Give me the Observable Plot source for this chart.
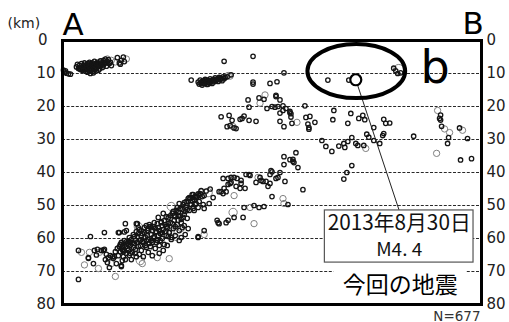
<!DOCTYPE html>
<html><head><meta charset="utf-8">
<script src="https://cdn.jsdelivr.net/npm/d3@7"></script>
<script src="https://cdn.jsdelivr.net/npm/@observablehq/plot@0.6"></script>
<style>body{margin:0;background:#fff;} #chart{width:509px;height:322px;}</style>
</head><body><div id="chart"></div>
<script>
// [distance along A-B, depth km, magnitude class (default 1)]
const edgeCluster = [[1,9.0],[2,9.6],[3,9.2],[4,9.9],[6,10.1],[8,10.2]];
const northwestCluster = [[14,8.0],[15,7.2],[16,8.5],[17,7.5],[18,8.8],[19,7.0],[19,8.2],[20,9.0],[21,7.6],[22,8.4],[22,6.8],[23,9.3],[24,7.8],[24,8.8],[25,7.1],[25,9.6],[26,8.2],[27,6.6],[27,9.0],[28,7.6],[28,10.0],[29,8.4],[30,6.8],[30,9.4],[31,7.8],[32,8.8],[32,6.3],[33,7.2],[34,9.2],[34,8.1],[35,6.6],[36,7.6],[37,8.6],[38,6.2],[39,7.3],[40,8.2],[41,6.0],[42,7.0],[43,5.6],[44,7.8],[45,6.4],[46,5.8],[47,7.0],[48,6.6],[49,7.6],[26,7.0],[29,7.3],[31,9.8],[23,8.0],[36,9.0],[17,8.3],[21,8.9],[25,8.4],[27,7.8],[29,9.0],[33,8.4],[35,7.4],[38,7.8],[41,7.6],[43,6.6],[20,7.9],[24,7.3],[28,8.7],[30,7.6],[32,7.5],[34,6.9],[37,7.2],[39,6.8],[40,7.0],[44,6.8],[45,5.6,2],[49,6.0,2],[53,6.5,2],[55,5.2],[57,6.8],[59,6.0],[61,5.0],[62,6.4],[64,5.6,2],[58,7.2]];
const northCluster = [[129,12.0],[136,12.6],[137,13.2],[138,12.0],[139,12.8],[140,13.5],[141,12.3],[142,13.0],[143,11.8],[144,12.6],[145,13.3],[146,12.1],[147,12.8],[148,11.6],[149,12.4],[150,13.0],[151,11.9],[152,12.5],[153,11.3],[154,12.1],[155,11.7],[156,12.4],[157,11.2],[158,11.9],[159,11.5],[160,12.2],[161,11.0],[162,11.6],[163,11.2],[165,11.0],[166,10.6,2],[168,10.8,2],[169,10.4],[142,12.2],[146,13.2],[150,12.0],[139,13.0],[144,12.0],[148,12.9],[152,11.8],[156,11.6],[140,12.4]];
const shallowScatter = [[162,6.3],[191,4.8],[191,12.6],[191,13.2],[222,9.8],[208,13.0],[215,12.5],[266,12.0],[287,12.0],[186,18.0],[187,20.2],[197,17.4],[203,16.5,2],[202,17.8],[214,16.6],[214,17.0],[218,18.0],[198,19.0,2],[205,20.6],[210,20.0],[213,20.2],[216,20.0],[221,19.8],[224,20.6],[221,21.2],[228,21.5],[228,21.9],[218,22.0],[243,19.8],[272,21.2],[229,22.2],[337,8.8,4],[332,8.4],[334,9.2],[336,10.0],[339,9.8]];
const midScatter = [[159,23.1],[167,22.7],[170,24.2],[168,25.8],[172,26.5],[165,26.1],[180,23.6],[182,22.9],[187,24.2],[194,24.5],[178,23.9],[174,26.7],[171,26.1,2],[218,24.5],[229,23.2],[230,25.1],[235,24.8,2],[244,23.3],[248,23.0],[253,24.8],[247,26.4],[247,26.9],[271,24.0],[222,26.1],[246,25.3],[289,22.1],[286,25.1],[297,23.6],[301,22.7],[303,24.0],[312,26.4],[322,23.9],[324,25.1],[328,25.0],[260,30.3],[264,32.1],[270,33.6],[277,32.0],[282,31.2],[283,32.4],[286,30.6],[290,29.4],[294,31.2],[296,31.8],[302,31.8],[304,32.7,2],[305,28.4],[307,29.3],[312,30.3],[318,31.2],[321,28.8],[322,28.2],[352,29.0]];
const eastGroup = [[376,21.2,2],[378,23.6],[379,24.1],[379,22.6],[380,26.0],[383,26.8,2],[388,27.9,2],[387,29.4],[386,31.2],[398,26.5],[401,27.2,2],[406,29.7],[375,34.2,2],[399,36.2],[410,35.8]];
const slabUpper = [[222,35.2],[228,36.1],[231,36.0],[231,36.6],[234,34.0],[232,37.0],[222,37.6],[236,38.5],[209,39.4],[210,39.8],[208,40.6],[218,40.0],[214,41.8],[223,42.7],[208,43.3],[206,44.2],[241,45.2],[290,37.9],[285,40.0],[282,42.0],[196,41.5,2],[194,43.0],[201,42.7],[204,42.7],[216,41.5],[184,40.6],[188,40.9],[199,42.4],[169,41.5],[172,41.5],[175,41.8],[179,42.4],[168,43.3],[174,44.2],[179,43.3],[178,44.8],[183,44.8],[166,43.6],[162,44.8],[157,45.8],[161,46.4],[164,45.8],[172,47.0,2],[146,46.1,3],[142,47.0],[137,47.0],[134,47.6],[130,47.6],[147,49.4],[136,50.6],[132,51.5],[210,47.3],[221,47.9,2],[222,49.4,2],[226,49.7],[171,52.1,3],[182,50.6],[188,50.6,2],[192,50.0],[197,50.6],[202,50.3],[181,53.6],[155,54.5],[157,55.5],[166,54.5],[164,55.2],[172,53.6],[192,55.5,2],[159,45.8],[156,55.2],[169,43.0],[187,40.6],[161,41.8],[166,41.8],[198,41.5]];
const slabDense = [[57,62.5],[58,64.0],[59,61.2],[60,63.3],[61,65.5],[62,60.6],[63,62.4],[64,64.5],[63,66.4],[65,61.5],[66,63.6],[67,59.7],[68,62.1],[69,60.3],[70,64.2],[71,58.8],[72,61.5],[73,63.3],[74,57.9],[74,65.5],[69,66.4],[67,65.1],[75,59.4],[76,62.4],[77,57.3],[78,60.6],[79,63.6],[80,58.5],[81,61.2],[82,56.7],[83,59.7],[84,62.7],[77,64.8],[81,65.5],[78,66.7,3],[80,67.6,2],[85,57.6],[86,60.3],[87,55.8],[88,62.4],[89,58.8],[90,61.2],[91,56.4],[92,59.4],[93,63.0],[94,57.9],[86,64.2],[90,65.2],[88,58.8,2],[92,61.5,2],[95,60.6],[96,56.7],[97,62.1],[98,58.5],[99,54.9],[100,60.0],[101,57.3],[102,61.8],[103,55.8],[104,59.1],[97,64.5],[101,63.6],[95,57.9,2],[105,56.7],[106,53.7],[107,58.2],[108,55.2],[109,60.3],[110,52.4],[111,57.0],[112,54.5],[113,59.1],[114,51.5],[105,62.1],[109,57.9,2],[115,55.8],[116,53.0],[117,57.6],[118,50.9],[119,54.2],[120,56.7],[121,49.7],[122,52.7],[123,58.8],[124,50.6],[119,59.7],[125,53.9],[126,48.8],[127,51.5],[128,47.9],[129,49.7],[130,46.7],[131,50.9],[132,48.2],[133,47.2],[134,49.4],[135,47.3],[136,46.5],[137,48.8],[138,46.4],[139,46.0,2],[139,45.5],[140,47.3],[141,49.7],[142,50.9],[144,45.6],[148,45.0],[151,47.6],[101,52.4],[109,50.3,3],[117,49.4],[122,49.1],[126,47.9],[127,47.6],[131,46.7],[112,53.0],[116,54.5],[119,55.2],[122,56.1],[126,57.0],[107,58.2],[109,59.7],[114,59.7,2],[117,60.6],[104,56.4],[99,55.2],[96,53.6],[92,55.2],[89,56.7],[84,56.1],[79,57.6],[76,56.7],[136,59.7],[142,57.6],[142,58.8,2],[136,59.4],[107,66.1,2],[95,65.8,2],[59,68.2],[76,56.4,3],[99,57.0,3],[119,57.0,2],[87,62.4,3]];
const slabDenseExtra = [[58,61.8],[60,62.4],[62,63.6],[64,61.0],[66,61.8],[68,64.5],[70,61.2],[71,62.7],[72,59.4],[73,60.6],[75,61.2],[76,58.5],[78,62.1],[79,59.1],[80,60.9],[82,58.2],[83,62.1],[84,60.6],[85,59.1],[86,57.0],[87,61.5],[88,56.4],[89,60.6],[90,57.6],[91,59.7],[93,57.0],[94,61.2],[95,55.5],[96,59.1],[97,57.6],[98,60.6],[100,56.1],[100,58.2],[102,54.6],[103,57.9],[104,53.4],[106,55.5],[106,59.4],[108,53.1],[110,55.5],[111,51.8],[113,53.4],[113,56.4],[115,50.6],[116,52.1],[118,53.1],[120,51.2],[121,53.6],[123,51.8],[124,48.8],[125,51.2],[128,49.7],[130,48.5],[133,49.7],[73,64.5],[65,63.0],[61,64.0],[67,61.0]];
const slabDeep = [[16,63.6],[19,64.2,2],[27,64.2,2],[32,63.6],[35,63.3],[39,63.6],[42,63.3],[44,64.8],[48,65.2],[50,65.5],[26,66.0],[31,67.6],[22,68.0,2],[36,69.1,2],[43,66.4],[47,68.8],[53,71.5,2],[16,72.4],[26,65.8],[37,64.2,2],[41,63.6],[42,58.2],[28,59.4],[46,65.8],[49,67.6,2],[54,67.6],[52,65.5],[56,65.2],[57,58.2],[59,68.5],[60,66.7],[63,55.5],[64,57.6],[74,55.5],[75,55.5],[62,58.0],[56,58.2],[51,66.0],[45,67.3],[34,65.0],[53,64.0],[55,63.0],[58,62.0]];
const mainEvent = [[294,11.9,4.4]];

// depth axis ticks
const depthTicks = [10,20,30,40,50,60,70,80];
const gridDepths = [10,20,30,40,50,60,70];

// annotations (distance, depth)
const ellipseB = [295, 9.4, 49, 8.2]; // centre dist, centre depth, radius dist, radius depth
const calloutBox = [263, 51.5, 412, 67.3];
const calloutLines = ["2013年8月30日", "M4. 4"];
const calloutDepths = [55.3, 63.7];
const labelBox = [272, 68.2, 405, 78.8];
const labelText = ["今回の地震"];
const labelDepth = 74.2;

const quakes = [...edgeCluster, ...northwestCluster, ...northCluster, ...shallowScatter,
  ...midScatter, ...eastGroup, ...slabUpper, ...slabDense, ...slabDenseExtra, ...slabDeep]
  .map(d => ({dist: d[0], depth: d[1], mag: d[2] ?? 1}));
const small = quakes.filter(d => d.mag < 2);
const large = quakes.filter(d => d.mag >= 2);
const main = mainEvent.map(d => ({dist: d[0], depth: d[1], mag: d[2]}));
const boxCx = (calloutBox[0] + calloutBox[2]) / 2;

const plot = Plot.plot({
  width: 509, height: 322,
  marginLeft: 62, marginRight: 28, marginTop: 40, marginBottom: 18,
  style: {fontFamily: "DejaVu Sans", background: "white", overflow: "visible"},
  x: {domain: [0, 420], axis: null},
  y: {domain: [0, 80], reverse: true, axis: null},
  r: {type: "linear", domain: [1, 4.4], range: [2.2, 5.5]},
  marks: [
    Plot.ruleY(gridDepths, {stroke: "#111", strokeWidth: 0.9, strokeDasharray: "3,1.6"}),
    Plot.dot(large, {x: "dist", y: "depth", r: "mag", stroke: "#808080", strokeWidth: 1, fill: "none"}),
    Plot.dot(small, {x: "dist", y: "depth", r: "mag", stroke: "#151515", strokeWidth: 1.3, fill: "none"}),
    Plot.link(main, {x1: "dist", y1: "depth", x2: () => boxCx, y2: () => calloutBox[1], stroke: "#222", strokeWidth: 1}),
    Plot.dot(main, {x: "dist", y: "depth", r: "mag", stroke: "#000", strokeWidth: 2.2, fill: "white"}),
    Plot.rect([labelBox], {x1: d => d[0], y1: d => d[1], x2: d => d[2], y2: d => d[3], fill: "white"}),
    Plot.rect([calloutBox], {x1: d => d[0], y1: d => d[1], x2: d => d[2], y2: d => d[3], fill: "white", stroke: "#555", strokeWidth: 1.2}),
    Plot.text(calloutLines, {x: () => boxCx, y: (d, i) => calloutDepths[i], text: d => d,
      fontFamily: "Noto Sans CJK JP", fontSize: (d, i) => i === 0 ? 21 : 18, fill: "#111"}),
    Plot.text(labelText, {x: () => boxCx + 1, y: () => labelDepth, text: d => d,
      fontFamily: "Noto Sans CJK JP", fontSize: 23, fill: "#000"}),
    Plot.frame({stroke: "#000", strokeWidth: 3}),
    Plot.axisY(depthTicks, {anchor: "left", tickSize: 0, tickPadding: 7, fontSize: 15, color: "#222", label: null}),
    Plot.axisY([0], {anchor: "left", tickSize: 0, tickPadding: 15, fontSize: 15, color: "#222", label: null}),
    Plot.axisY([0, ...depthTicks], {anchor: "right", tickSize: 0, tickPadding: 5, fontSize: 15, color: "#222", label: null}),
    Plot.text(["(km)"], {frameAnchor: "top-left", text: d => d, textAnchor: "start", dx: -55, dy: -22, fontSize: 14, fill: "#222"}),
    Plot.text(["A"], {frameAnchor: "top-left", text: d => d, textAnchor: "start", lineAnchor: "bottom", dx: 0, dy: -6, fontSize: 31, fill: "#000"}),
    Plot.text(["B"], {frameAnchor: "top-right", text: d => d, textAnchor: "start", lineAnchor: "bottom", dx: -19, dy: -7, fontSize: 31, fill: "#000"}),
    Plot.text(["b"], {frameAnchor: "top-right", text: d => d, textAnchor: "start", lineAnchor: "bottom", dx: -61, dy: 42, fontSize: 46, fill: "#000"}),
    Plot.text(["N=677"], {frameAnchor: "bottom-right", text: d => d, textAnchor: "end", lineAnchor: "bottom", dx: -1, dy: 16, fontSize: 13.5, fill: "#333"})
  ]
});

const sx = plot.scale("x"), sy = plot.scale("y");
const svg = d3.select(plot);
svg.append("ellipse")
  .attr("cx", sx.apply(ellipseB[0]))
  .attr("cy", sy.apply(ellipseB[1]))
  .attr("rx", sx.apply(ellipseB[0] + ellipseB[2]) - sx.apply(ellipseB[0]))
  .attr("ry", sy.apply(ellipseB[1] + ellipseB[3]) - sy.apply(ellipseB[1]))
  .attr("fill", "none").attr("stroke", "#000").attr("stroke-width", 4);

svg.selectAll("text").each(function () {
  if (this.textContent === calloutLines[0]) {
    this.setAttribute("textLength", 143);
    this.setAttribute("lengthAdjust", "spacingAndGlyphs");
  } else if (this.textContent === calloutLines[1]) {
    this.setAttribute("textLength", 46);
    this.setAttribute("lengthAdjust", "spacingAndGlyphs");
  }
});

document.getElementById("chart").appendChild(plot);
</script></body></html>
